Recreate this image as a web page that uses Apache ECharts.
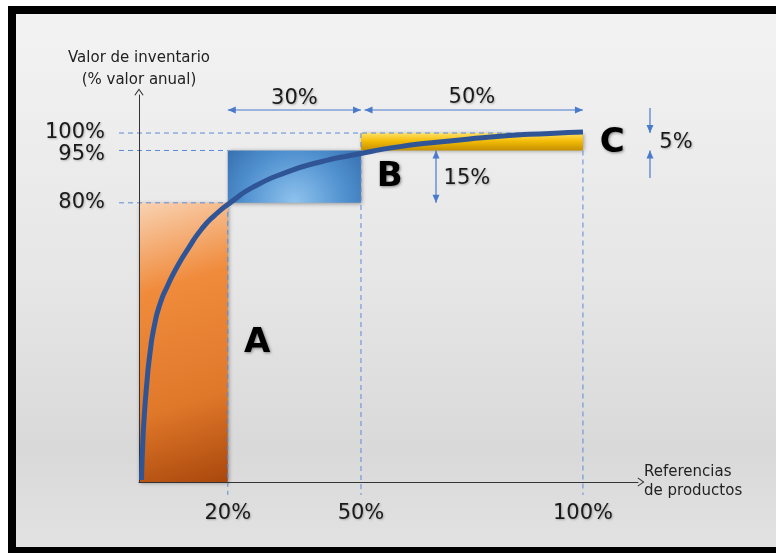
<!DOCTYPE html>
<html>
<head>
<meta charset="utf-8">
<script src="https://cdn.jsdelivr.net/npm/echarts@6/dist/echarts.min.js"></script>
<style>
html, body { margin: 0; padding: 0; background: #fff; }
#chart { width: 776px; height: 553px; }
</style>
</head>
<body>
<div id="chart"></div>
<script>
// curva ABC: % valor de inventario acumulado frente a % de referencias
var xTicks = [20, 50, 100];
var yTicks = [80, 95, 100];

// zonas A, B, C -> [x desde, x hasta, y desde, y hasta]
var zoneNames = ['A', 'B', 'C'];
var zoneBounds = [
    [0, 20, 0, 80],
    [20, 50, 80, 95],
    [50, 100, 95, 100]
];

// curva acumulada
var curveX = [0.56, 0.79, 1.13, 1.69, 2.48, 3.49, 4.73, 6.31, 8.56, 11.04, 14.12, 17.12, 20.72, 25.7, 33.3, 40.8, 48.2, 58.8, 70, 81.3, 92.6, 100];
var curveY = [0.6, 9.2, 17.8, 27.2, 37.0, 45.0, 51.0, 55.9, 61.6, 66.8, 72.5, 76.5, 80.2, 84.5, 88.8, 91.7, 93.7, 96.1, 97.7, 99.1, 99.9, 100.3];

// cotas
var spanLabels = ['30%', '50%', '15%', '5%'];

var chart = echarts.init(document.getElementById('chart'));

var guideColor = '#5b8bd6';
var arrowColor = '#4a7bcb';
var textShadow = { textShadowColor: 'rgba(0,0,0,0.28)', textShadowBlur: 2, textShadowOffsetX: 1, textShadowOffsetY: 1 };

var zoneFills = [
    new echarts.graphic.LinearGradient(0, 0, 1, 1, [
        { offset: 0, color: '#f9d2b2' },
        { offset: 0.3, color: '#f08b3c' },
        { offset: 0.7, color: '#e0782a' },
        { offset: 1, color: '#a9470c' }
    ]),
    new echarts.graphic.RadialGradient(0.5, 1, 1.9, [
        { offset: 0, color: '#8fc3ee' },
        { offset: 0.5, color: '#5292d0' },
        { offset: 1, color: '#2a62a2' }
    ]),
    new echarts.graphic.LinearGradient(0, 0, 0, 1, [
        { offset: 0, color: '#ffe168' },
        { offset: 0.45, color: '#f4bd08' },
        { offset: 1, color: '#c48f00' }
    ])
];

// lineas guia discontinuas [x1, y1, x2, y2]
var guides = [
    [-4.5, yTicks[2], xTicks[2], yTicks[2]],
    [-4.5, yTicks[1], xTicks[0], yTicks[1]],
    [-4.5, yTicks[0], xTicks[0], yTicks[0]],
    [xTicks[0], yTicks[0], xTicks[0], -3.7],
    [xTicks[1], yTicks[2], xTicks[1], -3.7],
    [xTicks[2], yTicks[1], xTicks[2], -3.7]
];

// flechas de cota [x1, y1, x2, y2, punta inicio, punta fin]
var arrows = [
    [20, 106.6, 50, 106.6, 1, 1],
    [50.8, 106.6, 100, 106.6, 1, 1],
    [66.9, 95, 66.9, 80, 1, 1],
    [115.1, 107.2, 115.1, 100, 0, 1],
    [115.1, 87.1, 115.1, 95, 0, 1]
];

// textos sobre el grafico
var notes = [
    { text: zoneNames[0], at: [26.6, 39.8], big: true },
    { text: zoneNames[1], at: [56.5, 87.3], big: true },
    { text: zoneNames[2], at: [106.6, 97.2], big: true },
    { text: spanLabels[0], at: [35, 110.0], align: 'center' },
    { text: spanLabels[1], at: [75, 110.2], align: 'center' },
    { text: spanLabels[2], at: [68.6, 87.1], align: 'left' },
    { text: spanLabels[3], at: [117.2, 97.4], align: 'left' }
];

function arrowHead(tip, from) {
    var dx = tip[0] - from[0], dy = tip[1] - from[1];
    var len = Math.sqrt(dx * dx + dy * dy);
    var ux = dx / len, uy = dy / len;
    var bx = tip[0] - ux * 8, by = tip[1] - uy * 8;
    return {
        type: 'polygon',
        shape: { points: [tip, [bx - uy * 3.5, by + ux * 3.5], [bx + uy * 3.5, by - ux * 3.5]] },
        style: { fill: arrowColor }
    };
}

var chevron = 'path://M0,7 L5,0 L10,7 L9,7.6 L5,2 L1,7.6 Z';
var tickFont = {
    fontFamily: 'DejaVu Sans', fontSize: 21, color: '#1a1a1a',
    textShadowColor: 'rgba(0,0,0,0.25)', textShadowBlur: 2, textShadowOffsetX: 1, textShadowOffsetY: 1
};

function tickLabel(values, extra) {
    return Object.assign({
        customValues: values,
        showMinLabel: true, showMaxLabel: true,
        formatter: '{value}%'
    }, tickFont, extra);
}

var option = {
    backgroundColor: '#fff',
    animation: false,
    graphic: [
        { type: 'rect', z: -20, silent: true, shape: { x: 8, y: 6, width: 768, height: 547 }, style: { fill: '#000' } },
        {
            type: 'rect', z: -19, silent: true,
            shape: { x: 16, y: 14, width: 760, height: 533 },
            style: {
                fill: new echarts.graphic.LinearGradient(0, 0, 0, 1, [
                    { offset: 0, color: '#f3f3f3' },
                    { offset: 0.5, color: '#e6e6e6' },
                    { offset: 0.82, color: '#d9d9d9' },
                    { offset: 1, color: '#e2e2e2' }
                ])
            }
        }
    ],
    grid: { left: 139, right: 138, top: 95, bottom: 71, outerBoundsMode: 'none' },
    xAxis: {
        type: 'value', min: 0, max: 112.4, z: 3,
        splitLine: { show: false },
        axisTick: { show: false },
        axisLine: { lineStyle: { color: '#333', width: 1 }, symbol: ['none', chevron], symbolSize: [10, 7], symbolOffset: [0, 3] },
        axisLabel: tickLabel(xTicks, { margin: 21 }),
        name: 'Referencias\nde productos',
        nameLocation: 'end', nameGap: 6,
        nameTextStyle: {
            fontFamily: 'DejaVu Sans', fontSize: 15, lineHeight: 19, color: '#222',
            align: 'left', verticalAlign: 'middle'
        }
    },
    yAxis: [
        {
            type: 'value', min: 0, max: 110.9, z: 3,
            splitLine: { show: false },
            axisTick: { show: false },
            axisLine: { lineStyle: { color: '#333', width: 1 }, symbol: ['none', chevron], symbolSize: [10, 7], symbolOffset: [0, 3] },
            axisLabel: tickLabel([yTicks[0], yTicks[2]], { margin: 34 }),
            name: 'Valor de inventario\n(% valor anual)',
            nameLocation: 'end', nameGap: 4,
            nameTextStyle: {
                fontFamily: 'DejaVu Sans', fontSize: 15, lineHeight: 22, color: '#222', align: 'center'
            }
        },
        {
            // 95% en eje aparte para que no se oculte junto a 100%
            type: 'value', min: 0, max: 110.9, position: 'left',
            splitLine: { show: false },
            axisTick: { show: false },
            axisLine: { show: false },
            axisLabel: tickLabel([yTicks[1]], { margin: 34, verticalAlign: 'top', lineHeight: 9 })
        }
    ],
    series: [
        {
            type: 'custom', z: 2, silent: true,
            data: zoneBounds,
            renderItem: function (params, api) {
                var p0 = api.coord([api.value(0), api.value(3)]);
                var p1 = api.coord([api.value(1), api.value(2)]);
                return {
                    type: 'rect',
                    shape: { x: p0[0], y: p0[1], width: p1[0] - p0[0], height: p1[1] - p0[1] },
                    style: {
                        fill: zoneFills[params.dataIndex],
                        shadowBlur: 4, shadowColor: 'rgba(0,0,0,0.35)', shadowOffsetX: 1, shadowOffsetY: 1
                    }
                };
            }
        },
        {
            type: 'custom', z: 3, silent: true, clip: false,
            data: guides,
            renderItem: function (params, api) {
                var a = api.coord([api.value(0), api.value(1)]);
                var b = api.coord([api.value(2), api.value(3)]);
                return {
                    type: 'line',
                    shape: { x1: a[0], y1: a[1], x2: b[0], y2: b[1] },
                    style: { stroke: guideColor, lineWidth: 1, lineDash: [5, 4] }
                };
            }
        },
        {
            type: 'line', z: 5, silent: true,
            data: curveX.map(function (x, i) { return [x, curveY[i]]; }),
            smooth: 0.6,
            symbol: 'none',
            lineStyle: { color: '#2f5597', width: 5 }
        },
        {
            type: 'custom', z: 4, silent: true, clip: false,
            data: arrows,
            renderItem: function (params, api) {
                var a = api.coord([api.value(0), api.value(1)]);
                var b = api.coord([api.value(2), api.value(3)]);
                var kids = [{
                    type: 'line',
                    shape: { x1: a[0], y1: a[1], x2: b[0], y2: b[1] },
                    style: { stroke: arrowColor, lineWidth: 1.2 }
                }];
                if (api.value(4)) { kids.push(arrowHead(a, b)); }
                if (api.value(5)) { kids.push(arrowHead(b, a)); }
                return { type: 'group', children: kids };
            }
        },
        {
            type: 'custom', z: 6, silent: true, clip: false,
            data: notes.map(function (n) { return n.at; }),
            renderItem: function (params, api) {
                var n = notes[params.dataIndex];
                var p = api.coord([api.value(0), api.value(1)]);
                var st = {
                    text: n.text,
                    x: p[0], y: p[1],
                    fill: n.big ? '#000' : '#1a1a1a',
                    fontFamily: 'DejaVu Sans',
                    fontSize: n.big ? 34 : 21,
                    fontWeight: n.big ? 'bold' : 'normal',
                    align: n.align || 'center',
                    verticalAlign: 'middle'
                };
                for (var k in textShadow) { st[k] = textShadow[k]; }
                if (n.big) { st.textShadowColor = 'rgba(0,0,0,0.45)'; st.textShadowBlur = 3; }
                return { type: 'text', style: st };
            }
        }
    ]
};

chart.setOption(option);
</script>
</body>
</html>
